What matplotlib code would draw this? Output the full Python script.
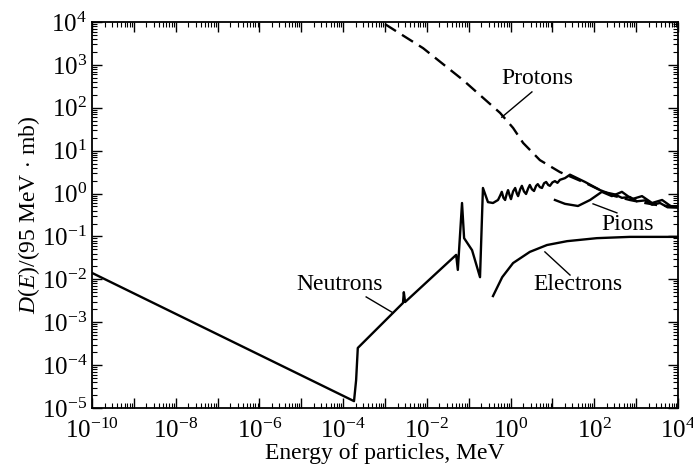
import numpy as np
import matplotlib
matplotlib.use("Agg")
import matplotlib.pyplot as plt
from matplotlib.ticker import FixedLocator, LogLocator, NullFormatter

plt.rcParams['font.family'] = ['Liberation Serif', 'DejaVu Serif']
plt.rcParams['mathtext.fontset'] = 'custom'
plt.rcParams['mathtext.rm'] = 'Liberation Serif'
plt.rcParams['mathtext.it'] = 'Liberation Serif:italic'

# curves as log10(E / MeV), log10(D)
neutron_lx = [-10.0, -3.74, -3.69, -3.65, -2.57, -2.55, -2.52, -1.30, -1.26, -1.16,
              -1.11, -0.92, -0.73, -0.66, -0.54, -0.42, -0.30, -0.25, -0.21, -0.17,
              -0.13, -0.09, -0.06, -0.02, 0.01, 0.06, 0.11, 0.15, 0.18, 0.23,
              0.27, 0.32, 0.37, 0.42, 0.46, 0.51, 0.56, 0.61, 0.65, 0.70,
              0.75, 0.80, 0.85, 0.90, 0.94, 1.00, 1.06, 1.12, 1.18, 1.30,
              1.42, 1.78, 2.14, 2.30, 2.49, 2.66, 2.85, 3.02, 3.21, 3.38,
              3.57, 3.75, 4.0]
neutron_ly = [-1.85, -4.84, -4.35, -3.60, -2.55, -2.30, -2.53, -1.43, -1.78, -0.22,
              -1.04, -1.32, -1.95, 0.13, -0.20, -0.22, -0.15, -0.05, 0.04, -0.10,
              -0.15, 0.00, 0.08, -0.05, -0.13, 0.05, 0.13, 0.00, -0.06, 0.10,
              0.18, 0.05, -0.01, 0.12, 0.20, 0.10, 0.06, 0.18, 0.22, 0.15,
              0.13, 0.24, 0.27, 0.20, 0.18, 0.26, 0.29, 0.25, 0.32, 0.36,
              0.44, 0.27, 0.08, 0.02, -0.02, -0.10, -0.08, -0.18, -0.16, -0.26,
              -0.22, -0.32, -0.33]

proton_lx = [-3.0, -2.09, -1.14, -0.25, 0.06, 0.30, 0.70, 1.18, 1.42, 1.78,
             2.14, 2.49, 2.85, 3.21, 3.57, 4.0]
proton_ly = [3.95, 3.39, 2.65, 1.88, 1.53, 1.18, 0.78, 0.50, 0.40, 0.25,
             0.08, -0.06, -0.15, -0.22, -0.28, -0.30]

pion_lx = [1.06, 1.30, 1.61, 1.90, 2.18, 2.42, 2.66, 2.90, 3.14, 3.38, 3.62, 3.85, 4.0]
pion_ly = [-0.15, -0.24, -0.29, -0.15, 0.04, -0.06, 0.04, -0.13, -0.06, -0.22, -0.15, -0.31, -0.29]

electron_lx = [-0.42, -0.20, 0.06, 0.46, 0.87, 1.35, 2.06, 2.85, 4.0]
electron_ly = [-2.39, -1.95, -1.62, -1.36, -1.20, -1.11, -1.04, -1.01, -1.01]

# label text (x, y in log10) and leader line ends
labels = ["Protons", "Neutrons", "Pions", "Electrons"]
label_xy = [(0.65, 2.69), (-4.08, -2.13), (2.80, -0.71), (1.61, -2.13)]
leader_from = [(0.51, 2.37), (-3.45, -2.41), (2.54, -0.45), (1.42, -1.90)]
leader_to = [(-0.21, 1.78), (-2.81, -2.78), (1.97, -0.24), (0.82, -1.36)]

fig = plt.figure(figsize=(6.93, 4.68), dpi=100)
ax = fig.add_axes([92 / 693, 1 - 408 / 468, 586 / 693, 386 / 468])

lw = 1.7
ax.plot(10 ** np.array(neutron_lx), 10 ** np.array(neutron_ly), color='black', lw=lw)
ax.plot(10 ** np.array(proton_lx), 10 ** np.array(proton_ly), color='black', lw=lw,
        dashes=(5.5, 3))
ax.plot(10 ** np.array(pion_lx), 10 ** np.array(pion_ly), color='black', lw=lw)
ax.plot(10 ** np.array(electron_lx), 10 ** np.array(electron_ly), color='black', lw=lw)

for name, (tx, ty), (ax0, ay0), (ax1, ay1) in zip(labels, label_xy, leader_from, leader_to):
    ax.text(10 ** tx, 10 ** ty, name, fontsize=17, ha='center', va='center')
    ax.plot([10 ** ax0, 10 ** ax1], [10 ** ay0, 10 ** ay1], color='black', lw=1.0)

ax.set_xscale('log')
ax.set_yscale('log')
ax.set_xlim(1e-10, 1e4)
ax.set_ylim(1e-5, 1e4)

xmaj = [10.0 ** k for k in range(-10, 5)]
ax.xaxis.set_major_locator(FixedLocator(xmaj))
ax.set_xticklabels([r"$10^{%d}$" % k if k % 2 == 0 else "" for k in range(-10, 5)])
ax.xaxis.set_minor_locator(LogLocator(base=10, subs=np.arange(2, 10), numticks=100))
ax.xaxis.set_minor_formatter(NullFormatter())

ymaj = [10.0 ** k for k in range(-5, 5)]
ax.yaxis.set_major_locator(FixedLocator(ymaj))
ax.set_yticklabels([r"$10^{%d}$" % k for k in range(-5, 5)])
ax.yaxis.set_minor_locator(LogLocator(base=10, subs=np.arange(2, 10), numticks=100))
ax.yaxis.set_minor_formatter(NullFormatter())

ax.tick_params(which='both', direction='in', top=True, right=True, labelsize=18)
ax.tick_params(axis='x', which='major', pad=8)
ax.tick_params(which='major', length=7, width=1.0)
ax.tick_params(which='minor', length=3.5, width=0.8)
for s in ax.spines.values():
    s.set_linewidth(1.3)

ax.set_xlabel("Energy of particles, MeV", fontsize=17, labelpad=0)
ax.set_ylabel(r"$D(E)$/(95 MeV$\,\cdot\,$mb)", fontsize=17, labelpad=0)

fig.savefig("out.png", dpi=100)
